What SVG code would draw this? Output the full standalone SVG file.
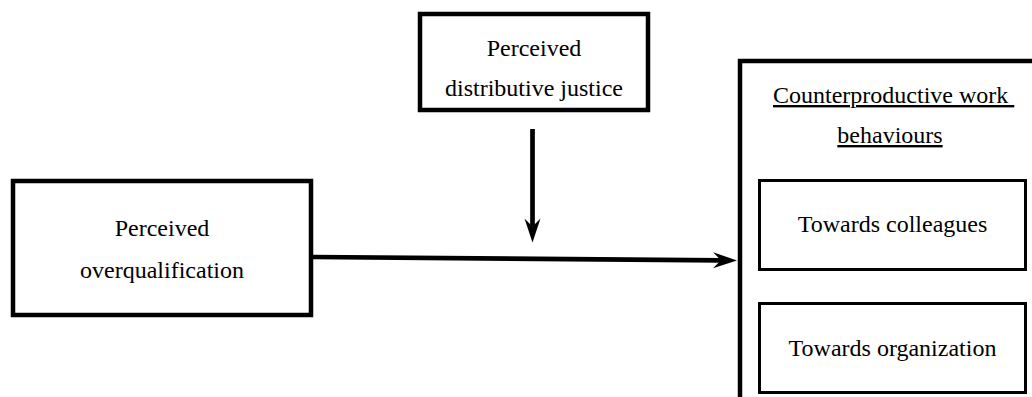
<svg xmlns="http://www.w3.org/2000/svg" width="1032" height="397" viewBox="0 0 1032 397">
<style>
  .box { fill: #fff; stroke: #000; stroke-width: 4.5; }
  .inner { fill: #fff; stroke: #000; stroke-width: 3; }
  .t { font-family: "Liberation Serif", "Times New Roman", serif; font-size: 24px; fill: #000; }
  .c { text-anchor: middle; }
  .u { text-decoration: underline; }
  .conn { stroke: #000; stroke-width: 4.7; fill: none; }
</style>
<defs>
  <marker id="ah" markerUnits="userSpaceOnUse" viewBox="-26 -10 28 20" markerWidth="28" markerHeight="20" refX="-16" refY="0" orient="auto" overflow="visible">
    <path d="M0,0 L-24,-8 L-16,0 L-24,8 Z" fill="#000"/>
  </marker>
</defs>
<rect width="1032" height="397" fill="#fff"/>
<g id="node-justice">
  <rect class="box" x="420" y="14" width="228" height="96"/>
  <text class="t c" x="534" y="56">Perceived</text>
  <text class="t c" x="534" y="96">distributive justice</text>
</g>
<g id="node-overqualification">
  <rect class="box" x="13" y="181" width="298" height="134"/>
  <text class="t c" x="162" y="236">Perceived</text>
  <text class="t c" x="162" y="278">overqualification</text>
</g>
<g id="node-cwb">
  <rect class="box" x="740" y="61" width="310" height="360"/>
  <text class="t u" x="773" y="103" xml:space="preserve">Counterproductive work </text>
  <text class="t c u" x="890" y="143">behaviours</text>
</g>
<g id="node-colleagues">
  <rect class="inner" x="759.5" y="180.5" width="266" height="89"/>
  <text class="t c" x="892.5" y="232">Towards colleagues</text>
</g>
<g id="node-organization">
  <rect class="inner" x="759.5" y="303.5" width="266" height="89"/>
  <text class="t c" x="892.5" y="356">Towards organization</text>
</g>
<g id="connectors">
  <line class="conn" x1="313" y1="257" x2="721" y2="260.3" marker-end="url(#ah)"/>
  <line class="conn" x1="532.5" y1="129" x2="532.5" y2="226.5" marker-end="url(#ah)"/>
</g>
</svg>
